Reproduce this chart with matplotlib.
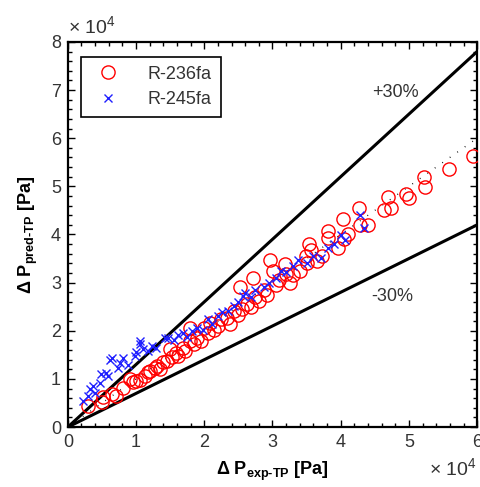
import numpy as np
import matplotlib.pyplot as plt
from matplotlib.ticker import MultipleLocator

plt.rcParams['font.family'] = ['Liberation Sans', 'DejaVu Sans']
plt.rcParams['mathtext.default'] = 'regular'

# measured vs predicted two-phase pressure drop, units of 1e4 Pa
r236_exp = [0.29, 0.50, 0.52, 0.65, 0.70, 0.81, 0.91, 0.95, 1.00, 1.06,
            1.13, 1.18, 1.21, 1.28, 1.31, 1.35, 1.40, 1.46, 1.50, 1.52,
            1.58, 1.62, 1.69, 1.72, 1.79, 1.79, 1.85, 1.90, 1.95, 1.99,
            2.05, 2.09, 2.15, 2.20, 2.25, 2.34, 2.38, 2.43, 2.50, 2.53,
            2.55, 2.63, 2.68, 2.72, 2.75, 2.80, 2.87, 2.92, 2.97, 3.01,
            3.05, 3.10, 3.18, 3.20, 3.25, 3.30, 3.40, 3.49, 3.51, 3.54,
            3.56, 3.65, 3.72, 3.81, 3.82, 3.96, 4.03, 4.05, 4.10, 4.27,
            4.29, 4.40, 4.63, 4.69, 4.74, 4.96, 5.00, 5.22, 5.24, 5.59,
            5.94]
r236_pred = [0.44, 0.52, 0.62, 0.69, 0.64, 0.81, 1.00, 0.93, 0.96, 0.98,
             1.06, 1.14, 1.17, 1.23, 1.27, 1.20, 1.35, 1.38, 1.63, 1.45,
             1.53, 1.48, 1.65, 1.58, 1.79, 2.06, 1.72, 1.85, 1.78, 2.06,
             1.95, 2.17, 2.02, 2.10, 2.25, 2.27, 2.15, 2.42, 2.32, 2.90,
             2.45, 2.56, 2.50, 3.10, 2.70, 2.62, 2.85, 2.75, 3.48, 3.25,
             2.95, 3.05, 3.38, 3.18, 3.00, 3.15, 3.25, 3.56, 3.40, 3.81,
             3.67, 3.45, 3.55, 3.92, 4.08, 3.71, 4.33, 3.90, 4.00, 4.56,
             4.19, 4.19, 4.50, 4.77, 4.56, 4.85, 4.75, 5.19, 4.98, 5.35,
             5.63]

r245_exp = [0.22, 0.29, 0.32, 0.40, 0.37, 0.47, 0.49, 0.56, 0.59, 0.62,
            0.65, 0.74, 0.76, 0.81, 0.88, 0.98, 1.00, 1.06, 1.06, 1.10,
            1.18, 1.24, 1.29, 1.43, 1.47, 1.55, 1.62, 1.69, 1.75, 1.82,
            1.90, 1.98, 2.06, 2.12, 2.20, 2.26, 2.35, 2.43, 2.50, 2.57,
            2.60, 2.68, 2.75, 2.87, 2.95, 3.05, 3.12, 3.20, 3.30, 3.38,
            3.50, 3.60, 3.71, 3.82, 3.90, 4.00, 4.07, 4.29, 4.34]
r245_pred = [0.54, 0.65, 0.79, 0.71, 0.85, 0.92, 1.10, 1.12, 1.06, 1.39,
             1.44, 1.23, 1.33, 1.44, 1.30, 1.48, 1.55, 1.73, 1.79, 1.63,
             1.58, 1.69, 1.65, 1.85, 1.85, 1.80, 1.92, 1.96, 1.88, 2.00,
             2.06, 2.02, 2.25, 2.15, 2.30, 2.38, 2.42, 2.52, 2.60, 2.73,
             2.79, 2.70, 2.85, 2.90, 3.00, 3.10, 3.25, 3.22, 3.35, 3.46,
             3.40, 3.55, 3.52, 3.71, 3.80, 3.98, 3.88, 4.40, 4.13]

band = 0.30
xlim = (0, 6)
ylim = (0, 8)

fig = plt.figure(figsize=(4.81, 4.87), dpi=100)
ax = fig.add_axes([0.141, 0.123, 0.851, 0.791])

xs = np.array(xlim, dtype=float)
ax.plot(xs, xs, color='black', linestyle=(0, (0.6, 6)), linewidth=1.0, zorder=1)
ax.plot(xs, (1 + band) * xs, color='black', linewidth=2.2, zorder=2)
ax.plot(xs, (1 - band) * xs, color='black', linewidth=2.2, zorder=2)

ax.plot(r236_exp, r236_pred, linestyle='none', marker='o', markersize=9.5,
        markerfacecolor='none', markeredgecolor='red', markeredgewidth=1.0,
        label='R-236fa', zorder=3)
ax.plot(r245_exp, r245_pred, linestyle='none', marker='x', markersize=5.5,
        color='#2020ff', markeredgewidth=1.0, label='R-245fa', zorder=4)

ax.set_xlim(*xlim)
ax.set_ylim(*ylim)
ax.xaxis.set_major_locator(MultipleLocator(1))
ax.yaxis.set_major_locator(MultipleLocator(1))
ax.xaxis.set_minor_locator(MultipleLocator(0.2))
ax.yaxis.set_minor_locator(MultipleLocator(0.2))
ax.tick_params(which='both', direction='in', top=True, right=True,
               labelsize=13, labelcolor='#333333', width=1.0)
ax.tick_params(which='major', length=5, pad=5)
ax.tick_params(which='minor', length=3)
for s in ax.spines.values():
    s.set_linewidth(1.6)

ax.set_xlabel('Δ P$_{exp\u2010TP}$ [Pa]', fontsize=13, fontweight='bold', labelpad=6)
ax.set_ylabel('Δ P$_{pred\u2010TP}$ [Pa]', fontsize=13, fontweight='bold', labelpad=8)

# offset factors for both axes
ax.text(0.0, 1.012, '× 10$^4$', transform=ax.transAxes, fontsize=14,
        color='#333333', ha='left', va='bottom')
ax.text(1.0, -0.078, '× 10$^4$', transform=ax.transAxes, fontsize=14,
        color='#333333', ha='right', va='top')

ax.text(4.8, 6.95, '+30%', fontsize=13, color='#333333', ha='center', va='center')
ax.text(4.75, 2.72, '-30%', fontsize=13, color='#333333', ha='center', va='center')

leg = ax.legend(loc='upper left', bbox_to_anchor=(0.01, 0.985), fontsize=13,
                fancybox=False, framealpha=1, edgecolor='black',
                handletextpad=1.2, borderpad=0.5, labelspacing=0.45)
leg.get_frame().set_linewidth(1.2)
for t in leg.get_texts():
    t.set_color('#333333')

fig.savefig('out.png', dpi=100)
